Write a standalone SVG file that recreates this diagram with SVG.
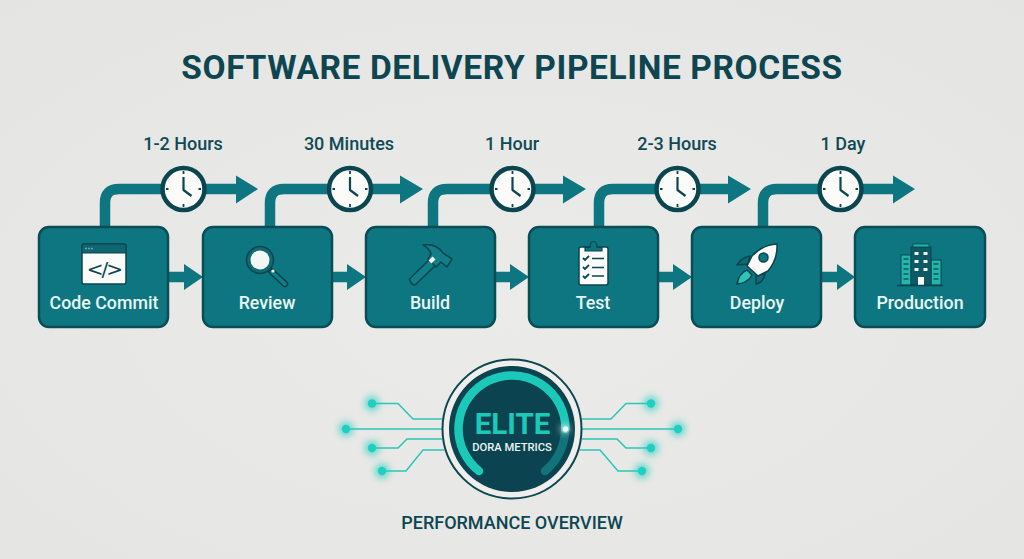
<svg xmlns="http://www.w3.org/2000/svg" width="1024" height="559" viewBox="0 0 1024 559">
<style>
.t{font-family:Roboto,"Liberation Sans",sans-serif;text-anchor:middle}
.title{font-size:33.5px;font-weight:700;fill:#0d4650;letter-spacing:.6px}
.dur{font-size:18px;font-weight:500;fill:#0f4a54}
.lab{font-size:17.8px;font-weight:500;fill:#e9f6f5}
.box{fill:#0e7680;stroke:#0b4d56;stroke-width:2.5}
.route{fill:none;stroke:#0e7680;stroke-width:10.5}
.head{fill:#0e7680}
.ink{stroke:#0b4650;stroke-width:1.6;stroke-linejoin:round;stroke-linecap:round}
.cir{fill:none;stroke:#2cc5b8;stroke-width:1.5}
.dot{fill:#1fcfc0}
</style>
<defs>
<radialGradient id="bg" cx=".5" cy=".55" r=".75"><stop offset="0" stop-color="#ebebe9"/><stop offset="1" stop-color="#e4e4e2"/></radialGradient>
<filter id="glow" x="-150%" y="-150%" width="400%" height="400%"><feGaussianBlur stdDeviation="3"/></filter>
<g id="clock">
<circle r="21" fill="#fbfbf9" stroke="#0b4650" stroke-width="4.5"/>
<path d="M0-18v3M0 15v3M-17.500 0h2.500M15 0h2.500" stroke="#0b4650" stroke-width="1.800" fill="none"/>
<path d="M0-12V1L8 7" stroke="#0b4650" stroke-width="2.200" fill="none" stroke-linejoin="round"/>
</g>
<g id="dotmark">
<circle r="8" class="dot" opacity=".55" filter="url(#glow)"/>
<circle r="4.200" class="dot"/>
</g>
</defs>
<rect width="1024" height="559" fill="url(#bg)"/>
<text class="t title" x="512" y="79">SOFTWARE DELIVERY PIPELINE PROCESS</text>
<g id="connectors">
<path class="route" d="M105 228V203Q105 189 119 189H238"/>
<path class="route" d="M270 228V203Q270 189 284 189H402"/>
<path class="route" d="M433 228V203Q433 189 447 189H565"/>
<path class="route" d="M599 228V203Q599 189 613 189H730"/>
<path class="route" d="M763 228V203Q763 189 777 189H894"/>
<path class="head" d="M236 175.500 258 189 236 203.500ZM400 175.500 423 189 400 203.500ZM563 175.500 586 189 563 203.500ZM728 175.500 751 189 728 203.500ZM893 175.500 915 189 893 203.500Z"/>
<path class="route" d="M168 277H186M332 277H350M495 277H513M658 277H676M821 277H840"/>
<path class="head" d="M184 264 203 277 184 290ZM347 264 366 277 347 290ZM510 264 529 277 510 290ZM673 264 692 277 673 290ZM837 264 855 277 837 290Z"/>
</g>
<g id="clocks">
<use href="#clock" x="183.500" y="189"/>
<use href="#clock" x="350" y="189"/>
<use href="#clock" x="512.500" y="189"/>
<use href="#clock" x="677.500" y="189"/>
<use href="#clock" x="840.500" y="189"/>
</g>
<g id="durations">
<text class="t dur" x="183" y="150">1-2 Hours</text>
<text class="t dur" x="349" y="150">30 Minutes</text>
<text class="t dur" x="512" y="150">1 Hour</text>
<text class="t dur" x="677" y="150">2-3 Hours</text>
<text class="t dur" x="843" y="150">1 Day</text>
</g>
<g id="node-code-commit">
<rect class="box" x="39" y="227" width="129" height="100" rx="10"/>
<rect x="82" y="244" width="44" height="40" rx="2" fill="#fbfbf9" stroke="#0b4650" stroke-width="1.500"/>
<path d="M82 246a2 2 0 0 1 2-2h40a2 2 0 0 1 2 2v7H82Z" fill="#0f6570" stroke="#0b4650" stroke-width="1.200"/>
<path d="M85.500 248.500h1M88.500 248.500h1M91.500 248.500h1" stroke="#cfe6e6" stroke-width="1.300"/>
<text x="104" y="275.500" font-family="'DejaVu Sans',sans-serif" font-size="20" fill="#0b4650" text-anchor="middle" letter-spacing="-2">&lt;/&gt;</text>
<text class="t lab" x="104" y="309">Code Commit</text>
</g>
<g id="node-review">
<rect class="box" x="203" y="227" width="129" height="100" rx="10"/>
<path d="M271 271 285 284" stroke="#0b4650" stroke-width="6.500" stroke-linecap="round"/>
<path d="M272 272 285 284" stroke="#127f88" stroke-width="3.500" stroke-linecap="round"/>
<circle cx="260" cy="260" r="13.500" fill="#0f6a74" stroke="#0b4650" stroke-width="1.600"/>
<circle cx="260" cy="260" r="9.500" fill="#f2f7f6"/>
<circle cx="273" cy="271" r="1.600" fill="#f2f7f6"/>
<text class="t lab" x="267" y="309">Review</text>
</g>
<g id="node-build">
<rect class="box" x="366" y="227" width="129" height="100" rx="10"/>
<path class="ink" d="M409.500 279 431 258 437 264 415 285Q411 285 409.500 279Z" fill="#127f88"/>
<path class="ink" d="M423 245Q436 243 443 253L452 259 447 267 441 262 436 267 428 259 431 254Q429 248 423 245Z" fill="#127f88"/>
<path d="M430 262 434 258" stroke="#f2f7f6" stroke-width="4"/>
<text class="t lab" x="430" y="309">Build</text>
</g>
<g id="node-test">
<rect class="box" x="529" y="227" width="129" height="100" rx="10"/>
<rect x="579" y="247" width="29" height="38" rx="2" fill="#fbfbf9" stroke="#0b4650" stroke-width="1.500"/>
<path d="M585 251V247.500H590Q590 241.500 593.500 241.500Q597 241.500 597 247.500H602V251Z" fill="#0e7680" stroke="#0b4650" stroke-width="1.200"/>
<path d="M583 258l2 2 4-4M583 267l2 2 4-4M583 276l2 2 4-4" fill="none" stroke="#0b4650" stroke-width="1.800"/>
<path d="M592 258.500h12M592 267.500h12M592 276h12" stroke="#0b4650" stroke-width="1.500"/>
<text class="t lab" x="593" y="309">Test</text>
</g>
<g id="node-deploy">
<rect class="box" x="692" y="227" width="129" height="100" rx="10"/>
<path class="ink" d="M750 256Q741 258 737 265L748 264ZM765 274Q763 283 756 284L756 273Z" fill="#0f6a74"/>
<path class="ink" d="M747 270Q739 273 737 284Q748 283 752 275Z" fill="#2cc5b8"/>
<path class="ink" d="M777 244Q762 245 752 256L747 266 758 276 768 271Q778 259 777 244Z" fill="#fbfbf9"/>
<circle cx="763.500" cy="257.500" r="4.500" fill="#0e7680" stroke="#0b4650" stroke-width="1.500"/>
<text class="t lab" x="757" y="309">Deploy</text>
</g>
<g id="node-production">
<rect class="box" x="855" y="227" width="130" height="100" rx="10"/>
<rect x="901" y="255" width="10" height="30" fill="#25b5a8" stroke="#0b4650" stroke-width="1"/>
<rect x="931" y="260" width="10" height="25" fill="#25b5a8" stroke="#0b4650" stroke-width="1"/>
<rect x="913" y="244" width="16" height="4" fill="#25b5a8" stroke="#0b4650" stroke-width=".8"/>
<rect x="911" y="247" width="20" height="38" fill="#0d5a64" stroke="#0b4650" stroke-width="1"/>
<path d="M903.500 259h5M903.500 264h5M903.500 269h5M903.500 274h5M903.500 279h5M933.500 264h5M933.500 269h5M933.500 274h5M933.500 279h5" stroke="#0b5a62" stroke-width="1.500"/>
<path d="M914.500 253.500h4M923.500 253.500h4M914.500 261.500h4M923.500 261.500h4M914.500 269.500h4M923.500 269.500h4" stroke="#eaf6f5" stroke-width="3"/>
<rect x="918" y="277" width="6" height="8" fill="#fbfbf9"/>
<path d="M897 285.500H943" stroke="#0b4650" stroke-width="1.500"/>
<text class="t lab" x="920" y="309">Production</text>
</g>
<g id="circuit">
<path class="cir" d="M372 403.500H398L413 419H442M346 429H442M372 448H398L407 439H442M382 471H406L423 450H444M651 403.500H626L611 419H582M678 429H582M651 448H626L617 439H582M642 471H618L600 450H580"/>
<use href="#dotmark" x="372" y="403.500"/>
<use href="#dotmark" x="346" y="429"/>
<use href="#dotmark" x="372" y="448"/>
<use href="#dotmark" x="382" y="471"/>
<use href="#dotmark" x="651" y="403.500"/>
<use href="#dotmark" x="678" y="429"/>
<use href="#dotmark" x="651" y="448"/>
<use href="#dotmark" x="642" y="471"/>
</g>
<g id="node-elite">
<circle cx="512" cy="429" r="69.500" fill="#eeeeec" stroke="#0d4650" stroke-width="2"/>
<circle cx="512" cy="429" r="63" fill="#0b4450"/>
<path d="M565 429A53.500 53.500 0 0 1 545 471" fill="none" stroke="#12737a" stroke-width="8.500" stroke-linecap="round"/>
<path d="M479 471A53.500 53.500 0 1 1 565.500 429" fill="none" stroke="#1cc8b8" stroke-width="8.500" stroke-linecap="round"/>
<circle cx="565" cy="429" r="5" fill="#fff" opacity=".6" filter="url(#glow)"/>
<circle cx="565.500" cy="429" r="2.800" fill="#fff"/>
<text class="t" x="512.500" y="434" font-size="29.500" font-weight="700" fill="#1cc8b8">ELITE</text>
<text class="t" x="512" y="451" font-size="11.200" font-weight="500" fill="#e9f6f5">DORA METRICS</text>
</g>
<text class="t" x="512" y="529" font-size="18" font-weight="500" fill="#0d4650">PERFORMANCE OVERVIEW</text>
</svg>
